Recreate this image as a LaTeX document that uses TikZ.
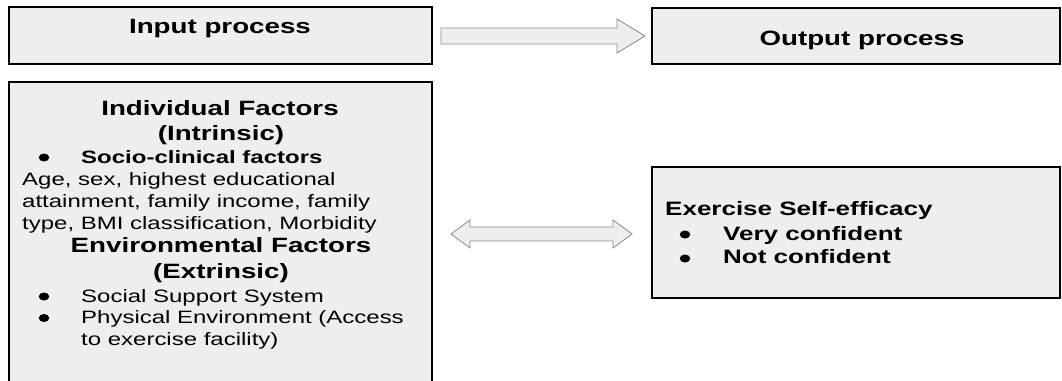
\documentclass[tikz,border=0pt]{standalone}
\usepackage{fontspec}
\usetikzlibrary{shapes.geometric}
\setmainfont{Liberation Sans}[FakeStretch=1.34]
\begin{document}
\begin{tikzpicture}[x=1pt,y=-1pt,
  box/.style={draw=black,line width=1.4pt,fill=boxgray},
  blockarrow/.style={draw=arrowgray,line width=0.8pt,fill=boxgray,line join=miter},
  bighead/.style={font=\bfseries\fontsize{20.7}{24}\selectfont,anchor=base,inner sep=0pt},
  subhead/.style={font=\bfseries\fontsize{17.9}{21}\selectfont,anchor=base west,inner sep=0pt},
  itemhead/.style={font=\bfseries\fontsize{19.4}{23}\selectfont,anchor=base west,inner sep=0pt},
  body/.style={font=\fontsize{17.9}{21}\selectfont,anchor=base west,inner sep=0pt},
  dot/.style={ellipse,fill=black,inner sep=0pt,minimum width=10.5pt,minimum height=8pt}]
\definecolor{boxgray}{HTML}{EEEEEE}
\definecolor{arrowgray}{HTML}{8A8A8A}
\useasboundingbox (0,0) rectangle (1062,380);
\clip (0,0) rectangle (1062,380);
\fill[white] (0,0) rectangle (1062,380);
% boxes
\draw[box] (9,7) rectangle (432,64);
\draw[box] (652,8) rectangle (1060,64);
\draw[box] (9,82) rectangle (432,395);
\draw[box] (652,167) rectangle (1060,298);
% block arrow right
\draw[blockarrow] (441,28) -- (617,28) -- (617,19) -- (645,36) -- (617,53) -- (617,44) -- (441,44) -- cycle;
% double block arrow
\draw[blockarrow] (451,234) -- (470,220) -- (470,227) -- (613,227) -- (613,220) -- (632,234) -- (613,248) -- (613,241) -- (470,241) -- (470,248) -- cycle;
% top labels
\node[bighead] (inp) at (220,33) {Input process};
\node[bighead] (outp) at (862,45) {Output process};
% left box content
\node[bighead] (ind) at (220,115) {Individual Factors};
\node[bighead] (intr) at (221,140) {(Intrinsic)};
\node[dot] (b1) at (44,157.5) {};
\node[subhead] (soc) at (81,163) {Socio-clinical factors};
\node[body] (l1) at (22,185) {Age, sex, highest educational};
\node[body] (l2) at (22,207) {attainment, family income, family};
\node[body] (l3) at (22,229) {type, BMI classification, Morbidity};
\node[bighead] (env) at (221,252) {Environmental Factors};
\node[bighead] (ext) at (221,278) {(Extrinsic)};
\node[dot] (b2) at (44,296.5) {};
\node[body] (s1) at (81,302) {Social Support System};
\node[dot] (b3) at (44,318) {};
\node[body] (s2) at (81,323) {Physical Environment (Access};
\node[body] (s3) at (81,345) {to exercise facility)};
% right box content
\node[itemhead] (ese) at (665,215) {Exercise Self-efficacy};
\node[dot] (b4) at (685,234.5) {};
\node[itemhead] (vc) at (723,240) {Very confident};
\node[dot] (b5) at (685,258.5) {};
\node[itemhead] (nc) at (723,263) {Not confident};
\end{tikzpicture}
\end{document}
